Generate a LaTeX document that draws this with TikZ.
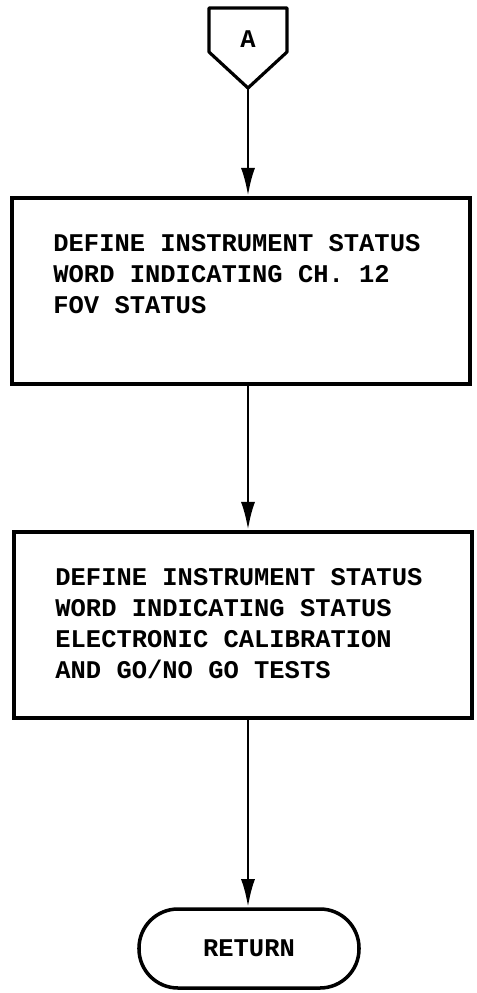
\documentclass[tikz,border=0pt]{standalone}
\usepackage{fontspec}
\setmonofont{Liberation Mono}
\usetikzlibrary{arrows.meta,calc}

\begin{document}
\begin{tikzpicture}[
  procbox/.style={rectangle,draw,line width=2.2pt,minimum width=9.16cm,
                  minimum height=3.72cm,inner sep=0pt},
  boxtext/.style={align=left,inner sep=0pt,anchor=north west,
                  font=\fontsize{14.5}{17.6}\selectfont\ttfamily\bfseries},
  termbox/.style={rectangle,rounded corners=0.78cm,draw,line width=2pt,
                  minimum width=4.4cm,minimum height=1.58cm,
                  font=\fontsize{14.5}{17.6}\selectfont\ttfamily\bfseries},
  flowarrow/.style={-{Latex[length=16pt,width=8pt]},line width=1.7pt}]
\useasboundingbox (0,0) rectangle (9.54,-19.86);
% off-page connector
\draw[line width=1.8pt,line join=round] (4.18,-0.16) -- (5.74,-0.16) -- (5.74,-1.04)
  -- (4.96,-1.76) -- (4.18,-1.04) -- cycle;
\node[font=\fontsize{14.5}{17.6}\selectfont\ttfamily\bfseries] (conA) at (4.96,-0.78) {A};
\coordinate (conAtip) at (4.96,-1.76);
% process boxes
\node[procbox] (def1) at (4.82,-5.82) {};
\node[boxtext] (def1txt) at ($(def1.north west)+(0.86,-0.76)$)
  {DEFINE INSTRUMENT STATUS\\WORD INDICATING CH. 12\\FOV STATUS};
\node[procbox] (def2) at (4.86,-12.50) {};
\node[boxtext] (def2txt) at ($(def2.north west)+(0.86,-0.76)$)
  {DEFINE INSTRUMENT STATUS\\WORD INDICATING STATUS\\ELECTRONIC CALIBRATION\\AND GO/NO GO TESTS};
% terminal
\node[termbox] (ret) at (4.98,-18.97) {RETURN};
\draw[flowarrow] (conAtip) -- (conAtip |- def1.north);
\draw[flowarrow] (conAtip |- def1.south) -- (conAtip |- def2.north);
\draw[flowarrow] (conAtip |- def2.south) -- (conAtip |- ret.north);
\end{tikzpicture}
\end{document}
